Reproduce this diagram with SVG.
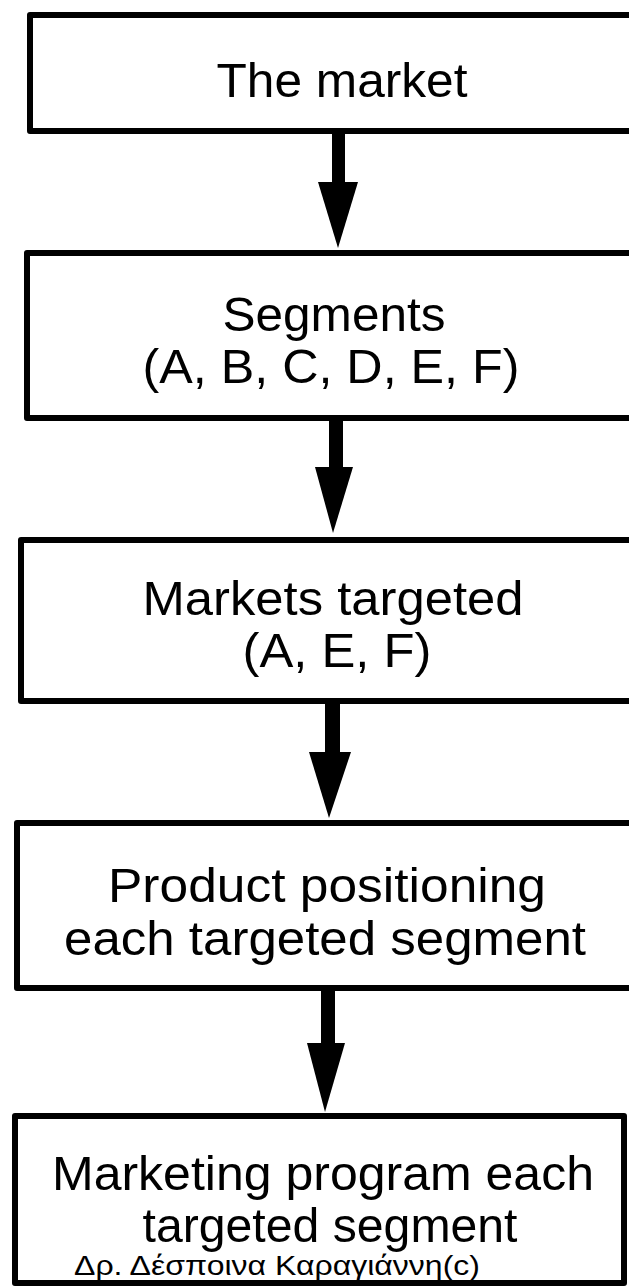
<svg xmlns="http://www.w3.org/2000/svg" width="629" height="1286" viewBox="0 0 629 1286">
<defs>
<style>
.box{fill:#fff;stroke:#000;stroke-width:6;stroke-linejoin:round}
.t{font-family:"Liberation Sans",Arial,Helvetica,sans-serif;font-size:49px;fill:#000;text-anchor:middle}
.g{font-family:"Liberation Sans",Arial,"Noto Sans",sans-serif;font-size:27px;fill:#000}
.arr{fill:#000;stroke:none}
</style>
</defs>
<rect width="629" height="1286" fill="#fff"/>
<g id="node-market">
<path class="box" d="M 680 15 H 30 V 131 H 680"/>
<text class="t" x="342" y="97" textLength="251" lengthAdjust="spacingAndGlyphs">The market</text>
</g>
<g id="node-segments">
<path class="box" d="M 680 253 H 27 V 418 H 680"/>
<text class="t" x="334" y="331" textLength="223" lengthAdjust="spacingAndGlyphs">Segments</text>
<text class="t" x="331" y="383" textLength="377" lengthAdjust="spacingAndGlyphs">(A, B, C, D, E, F)</text>
</g>
<g id="node-targeted">
<path class="box" d="M 680 540 H 21 V 701 H 680"/>
<text class="t" x="333" y="615" textLength="381" lengthAdjust="spacingAndGlyphs">Markets targeted</text>
<text class="t" x="337" y="667" textLength="189" lengthAdjust="spacingAndGlyphs">(A, E, F)</text>
</g>
<g id="node-positioning">
<path class="box" d="M 680 823 H 17 V 988 H 680"/>
<text class="t" x="327" y="902" textLength="438" lengthAdjust="spacingAndGlyphs">Product positioning</text>
<text class="t" x="325" y="955" textLength="522" lengthAdjust="spacingAndGlyphs">each targeted segment</text>
</g>
<g id="node-program">
<rect class="box" x="15" y="1116" width="609" height="167"/>
<text class="t" x="323" y="1190" textLength="542" lengthAdjust="spacingAndGlyphs">Marketing program each</text>
<text class="t" x="330" y="1242" textLength="375" lengthAdjust="spacingAndGlyphs">targeted segment</text>
<text class="g" x="74" y="1275" textLength="406" lengthAdjust="spacingAndGlyphs">Δρ. Δέσποινα Καραγιάννη(c)</text>
</g>
<g id="connectors">
<rect class="arr" x="332" y="131" width="13" height="53"/>
<polygon class="arr" points="318,182 358,182 338,248"/>
<rect class="arr" x="329" y="418" width="14" height="51"/>
<polygon class="arr" points="315,467 353,467 333,533"/>
<rect class="arr" x="325" y="701" width="15" height="53"/>
<polygon class="arr" points="309,752 351,752 329,818"/>
<rect class="arr" x="321" y="988" width="14" height="57"/>
<polygon class="arr" points="307,1043 345,1043 325,1112"/>
</g>
</svg>
